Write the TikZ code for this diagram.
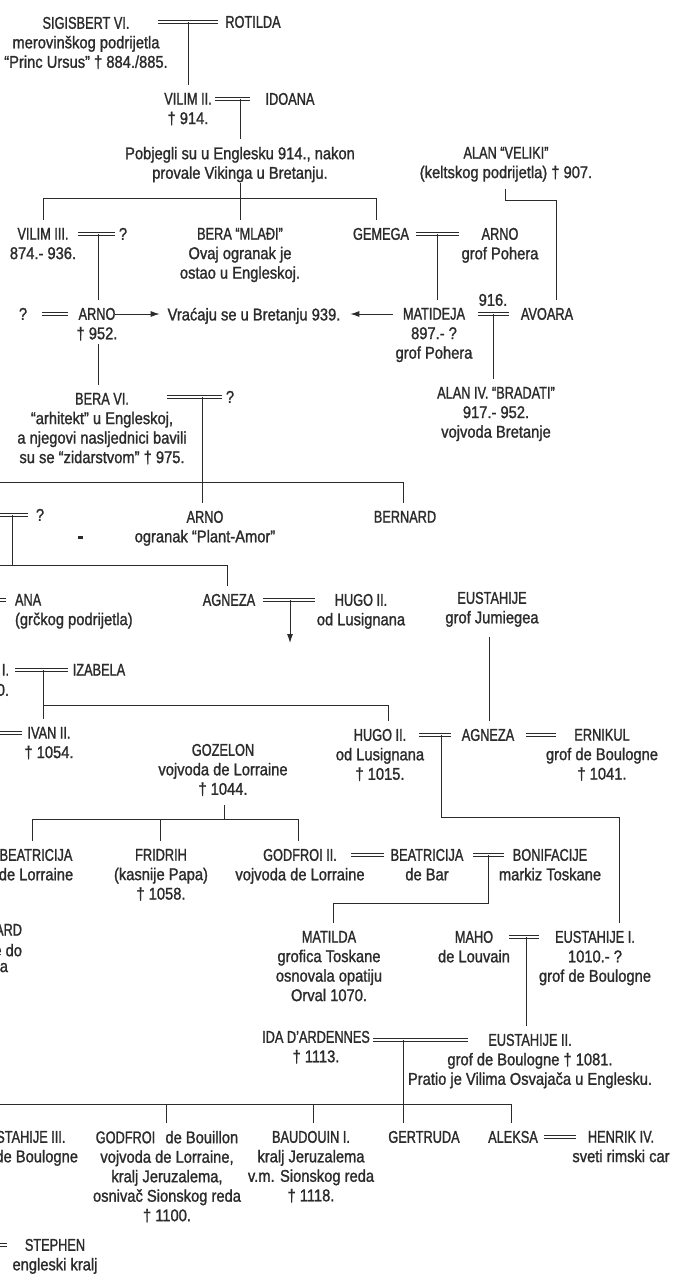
\documentclass[tikz,border=0pt]{standalone}
\usepackage{fontspec}
\setmainfont{Liberation Sans}[FakeStretch=0.865,FakeBold=1.3]
\newfontfamily\capsfont{Liberation Sans}[FakeStretch=0.75,FakeBold=1.3]
\newcommand\nm[1]{{\capsfont #1}}
\usetikzlibrary{arrows.meta}
\definecolor{ink}{gray}{0.17}
\begin{document}
\begin{tikzpicture}[x=1pt,y=-1pt,
  txt/.style={anchor=north,yshift=6.1pt,inner sep=0pt,outer sep=0pt,align=center,text=ink,font=\fontsize{17}{19.5}\selectfont},
  ln/.style={draw=ink,line width=0.9pt},
  drop/.style={ln,shorten >=8pt},
  marr/.style={draw=ink,double=white,double distance=1.8pt,line width=0.8pt},
  arr/.style={ln,-{Latex[length=9pt,width=6pt]}}]
\useasboundingbox (0,0) rectangle (672,1281);
\clip (0,0) rectangle (672,1281);

% ---------------- nodes ----------------
\node[txt] (sig) at (86,23) {\nm{SIGISBERT VI.}\\merovinškog podrijetla\\“Princ Ursus” † 884./885.};
\node[txt] (rot) at (253,22) {\nm{ROTILDA}};
\node[txt] (vil2) at (188,99) {\nm{VILIM II.}\\† 914.};
\node[txt] (ido) at (290,99) {\nm{IDOANA}};
\node[txt] (pob) at (240,153) {Pobjegli su u Englesku 914., nakon\\provale Vikinga u Bretanju.};
\node[txt] (alan) at (506,153) {\nm{ALAN “VELIKI”}\\(keltskog podrijetla) † 907.};
\node[txt] (vil3) at (43,234) {\nm{VILIM III.}\\874.- 936.};
\node[txt] (q1) at (123,234) {?};
\node[txt] (beram) at (240,234) {\nm{BERA “MLAĐI”}\\Ovaj ogranak je\\ostao u Engleskoj.};
\node[txt] (gem) at (381,234) {\nm{GEMEGA}};
\node[txt] (arnop) at (500,234) {\nm{ARNO}\\grof Pohera};
\node[txt] (q2) at (23,314) {?};
\node[txt] (arno) at (97,314) {\nm{ARNO}\\† 952.};
\node[txt] (vrac) at (254,314) {Vraćaju se u Bretanju 939.};
\node[txt] (mat) at (434,314) {\nm{MATIDEJA}\\897.- ?\\grof Pohera};
\node[txt] (y916) at (493,300) {916.};
\node[txt] (avo) at (547,314) {\nm{AVOARA}};
\node[txt] (alan4) at (496,393) {\nm{ALAN IV. “BRADATI”}\\917.- 952.\\vojvoda Bretanje};
\node[txt] (bera6) at (102,399) {\nm{BERA VI.}\\“arhitekt” u Engleskoj,\\a njegovi nasljednici bavili\\su se “zidarstvom” † 975.};
\node[txt] (q3) at (230,397) {?};
\node[txt] (q4) at (40,515) {?};
\node[txt] (arnopa) at (205,517) {\nm{ARNO}\\ogranak “Plant-Amor”};
\node[txt] (bern) at (405,517) {\nm{BERNARD}};
\node[txt,anchor=north west,align=left] (ana) at (15,600) {\nm{ANA}\\(grčkog podrijetla)};
\node[txt] (agn1) at (229,600) {\nm{AGNEZA}};
\node[txt] (hugo1) at (361,600) {\nm{HUGO II.}\\od Lusignana};
\node[txt] (eust) at (492,598) {\nm{EUSTAHIJE}\\grof Jumiegea};
\node[txt,anchor=north east] (fragI) at (9,670) {\nm{I.}};
\node[txt,anchor=north east] (fragO) at (9,690) {0.};
\node[txt] (iza) at (99,670) {\nm{IZABELA}};
\node[txt] (ivan) at (49,733) {\nm{IVAN II.}\\† 1054.};
\node[txt] (goz) at (223,750) {\nm{GOZELON}\\vojvoda de Lorraine\\† 1044.};
\node[txt] (hugo2) at (380,735) {\nm{HUGO II.}\\od Lusignana\\† 1015.};
\node[txt] (agn2) at (488,735) {\nm{AGNEZA}};
\node[txt] (ern) at (602,735) {\nm{ERNIKUL}\\grof de Boulogne\\† 1041.};
\node[txt] (beaL) at (36,855) {\nm{BEATRICIJA}\\de Lorraine};
\node[txt] (frid) at (161,855) {\nm{FRIDRIH}\\(kasnije Papa)\\† 1058.};
\node[txt] (godf2) at (300,855) {\nm{GODFROI II.}\\vojvoda de Lorraine};
\node[txt] (beaB) at (427,855) {\nm{BEATRICIJA}\\de Bar};
\node[txt] (bon) at (550,855) {\nm{BONIFACIJE}\\markiz Toskane};
\node[txt,anchor=north east] (ard1) at (22,930) {\nm{ARD}};
\node[txt,anchor=north east] (ard2) at (22,950) {e do};
\node[txt,anchor=north east] (ard3) at (8,969) {a};
\node[txt] (mat2) at (329,937) {\nm{MATILDA}\\grofica Toskane\\osnovala opatiju\\Orval 1070.};
\node[txt] (maho) at (474,937) {\nm{MAHO}\\de Louvain};
\node[txt] (eust1) at (595,937) {\nm{EUSTAHIJE I.}\\1010.- ?\\grof de Boulogne};
\node[txt] (ida) at (316,1037) {\nm{IDA D’ARDENNES}\\† 1113.};
\node[txt] (eust2) at (530,1040) {\nm{EUSTAHIJE II.}\\grof de Boulogne † 1081.\\Pratio je Vilima Osvajača u Englesku.};
\node[txt] (eust3) at (22,1137) {\nm{EUSTAHIJE III.}\\grof de Boulogne};
\node[txt] (godb) at (167,1137) {\nm{GODFROI}\hspace{0.6em}de Bouillon\\vojvoda de Lorraine,\\kralj Jeruzalema,\\osnivač Sionskog reda\\† 1100.};
\node[txt] (baud) at (311,1137) {\nm{BAUDOUIN I.}\\kralj Jeruzalema\\v.m. Sionskog reda\\† 1118.};
\node[txt] (gert) at (424,1137) {\nm{GERTRUDA}};
\node[txt] (aleks) at (513,1137) {\nm{ALEKSA}};
\node[txt] (henr) at (621,1137) {\nm{HENRIK IV.}\\sveti rimski car};
\node[txt] (steph) at (55,1245) {\nm{STEPHEN}\\engleski kralj};

% stray printed mark
\fill[ink] (78,535.5) rectangle (82.5,538.5);

% ---------------- marriages ----------------
\coordinate (m1a) at (158,22);  \coordinate (m1b) at (218,22);  \coordinate (m1c) at (188,22);
\coordinate (m2a) at (215,99);  \coordinate (m2b) at (250,99);  \coordinate (m2c) at (240,99);
\coordinate (m3a) at (78,234);  \coordinate (m3b) at (115,234); \coordinate (m3c) at (98,234);
\coordinate (m4a) at (416,234); \coordinate (m4b) at (459,234); \coordinate (m4c) at (437,234);
\coordinate (m5a) at (42,314);  \coordinate (m5b) at (68,314);
\coordinate (m6a) at (478,314); \coordinate (m6b) at (509,314); \coordinate (m6c) at (493,314);
\coordinate (m7a) at (167,397); \coordinate (m7b) at (222,397); \coordinate (m7c) at (202,397);
\coordinate (m8a) at (-5,515);  \coordinate (m8b) at (28,515);  \coordinate (m8c) at (12,515);
\coordinate (m9a) at (-5,600);  \coordinate (m9b) at (6,600);
\coordinate (m10a) at (263,600); \coordinate (m10b) at (315,600); \coordinate (m10c) at (290,600);
\coordinate (m11a) at (15,670);  \coordinate (m11b) at (68,670);  \coordinate (m11c) at (43,670);
\coordinate (m12a) at (-5,733);  \coordinate (m12b) at (22,733);
\coordinate (m13a) at (419,735); \coordinate (m13b) at (451,735); \coordinate (m13c) at (441,735);
\coordinate (m14a) at (526,735); \coordinate (m14b) at (556,735);
\coordinate (m15a) at (351,855); \coordinate (m15b) at (384,855);
\coordinate (m16a) at (473,855); \coordinate (m16b) at (504,855); \coordinate (m16c) at (488,855);
\coordinate (m17a) at (509,937); \coordinate (m17b) at (539,937); \coordinate (m17c) at (526,937);
\coordinate (m18a) at (373,1040); \coordinate (m18b) at (468,1040); \coordinate (m18c) at (403,1040);
\coordinate (m19a) at (544,1137); \coordinate (m19b) at (576,1137);
\coordinate (m20a) at (-5,1245); \coordinate (m20b) at (7,1245);
\foreach \m in {m1,m2,m3,m4,m5,m6,m7,m8,m9,m10,m11,m12,m13,m14,m15,m16,m17,m18,m19,m20}
  \draw[marr] (\m a) -- (\m b);

% ---------------- descent lines ----------------
\draw[drop] (m1c) -- (m1c |- vil2.north);
\draw[drop] (m2c) -- (m2c |- pob.north);
\coordinate (b1) at (43,198); \coordinate (b2) at (376,198); \coordinate (b3) at (240,183);
\draw[ln] (b1) -- (b2);
\draw[drop] (b3) -- (b3 |- beram.north);
\draw[drop] (b1) -- (b1 |- vil3.north);
\draw[drop] (b2) -- (b2 |- gem.north);
\coordinate (a1) at (505,189); \coordinate (a2) at (556,200);
\draw[drop] (a1) |- (a2) -- (a2 |- avo.north);
\draw[drop] (m3c) -- (m3c |- arno.north);
\draw[drop] (m4c) -- (m4c |- mat.north);
\coordinate (r1) at (115,314); \coordinate (r3) at (393,314);
\draw[arr,shorten >=8pt] (r1) -- (r1 -| vrac.west);
\draw[arr,shorten >=10pt] (r3) -- (r3 -| vrac.east);
\draw[drop] (m6c) -- (m6c |- alan4.north);
\coordinate (r4) at (98,344);
\draw[drop] (r4) -- (r4 |- bera6.north);
\coordinate (b4a) at (0,482); \coordinate (b4b) at (403,482);
\draw[ln] (b4a) -- (b4b);
\draw[drop] (m7c) -- (m7c |- arnopa.north);
\draw[drop] (b4b) -- (b4b |- bern.north);
\coordinate (b5a) at (0,565); \coordinate (b5b) at (227,565); \coordinate (b5c) at (12,565);
\draw[ln] (m8c) -- (b5c);
\draw[ln] (b5a) -- (b5b);
\draw[drop] (b5b) -- (b5b |- agn1.north);
\coordinate (r5) at (290,643);
\draw[arr] (m10c) -- (r5);
\coordinate (e1) at (489,637);
\draw[drop] (e1) -- (e1 |- agn2.north);
\coordinate (b6a) at (43,705); \coordinate (b6b) at (388,705);
\draw[drop] (m11c) -- (m11c |- ivan.north);
\draw[ln] (b6a) -- (b6b);
\draw[drop] (b6b) -- (b6b |- hugo2.north);
\coordinate (g0) at (224,805); \coordinate (g1) at (224,819);
\coordinate (b7a) at (32,819); \coordinate (b7b) at (298,819); \coordinate (b7c) at (160,819);
\draw[ln] (g0) -- (g1);
\draw[ln] (b7a) -- (b7b);
\draw[drop] (b7a) -- (b7a |- beaL.north);
\draw[drop] (b7c) -- (b7c |- frid.north);
\draw[drop] (b7b) -- (b7b |- godf2.north);
\coordinate (h1) at (619,817);
\draw[drop] (m13c) |- (h1) -- (h1 |- eust1.north);
\coordinate (h2) at (333,903);
\draw[drop] (m16c) |- (h2) -- (h2 |- mat2.north);
\draw[drop] (m17c) -- (m17c |- eust2.north);
\coordinate (b8a) at (0,1104); \coordinate (b8b) at (511,1104);
\coordinate (b8c) at (166,1104); \coordinate (b8d) at (313,1104);
\draw[ln] (b8a) -- (b8b);
\draw[drop] (m18c) -- (m18c |- gert.north);
\draw[drop] (b8b) -- (b8b |- aleks.north);
\draw[drop] (b8c) -- (b8c |- godb.north);
\draw[drop] (b8d) -- (b8d |- baud.north);
\end{tikzpicture}
\end{document}
